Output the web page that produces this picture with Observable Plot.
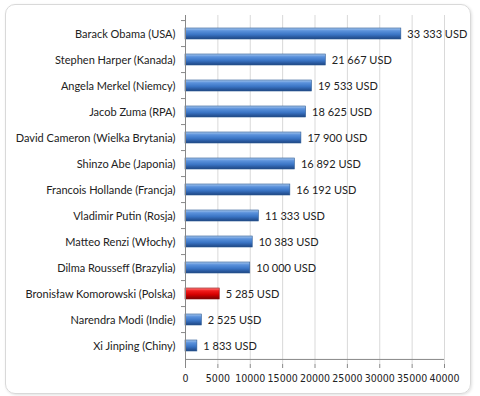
<!DOCTYPE html>
<html>
<head>
<meta charset="utf-8">
<script src="https://cdn.jsdelivr.net/npm/d3@7"></script>
<script src="https://cdn.jsdelivr.net/npm/@observablehq/plot@0.6"></script>
<style>
  html, body { margin: 0; padding: 0; background: #fff; }
  #wrap { position: relative; width: 480px; height: 396px; overflow: hidden; }
  #frame { position: absolute; left: 5px; top: 4px; width: 464px; height: 388px;
    border: 1px solid #d9d9d9; border-radius: 10px; box-shadow: 1px 1px 3px rgba(0,0,0,0.12); pointer-events: none; }
</style>
</head>
<body>
<div id="wrap"><div id="frame"></div></div>
<script>
const leaders = [
  "Barack Obama (USA)",
  "Stephen Harper (Kanada)",
  "Angela Merkel (Niemcy)",
  "Jacob Zuma (RPA)",
  "David Cameron (Wielka Brytania)",
  "Shinzo Abe (Japonia)",
  "Francois Hollande (Francja)",
  "Vladimir Putin (Rosja)",
  "Matteo Renzi (Włochy)",
  "Dilma Rousseff (Brazylia)",
  "Bronisław Komorowski (Polska)",
  "Narendra Modi (Indie)",
  "Xi Jinping (Chiny)"
];
const salaries = [33333, 21667, 19533, 18625, 17900, 16892, 16192, 11333, 10383, 10000, 5285, 2525, 1833];
const highlighted = ["Bronisław Komorowski (Polska)"];
const xTicks = [0, 5000, 10000, 15000, 20000, 25000, 30000, 35000, 40000];

const data = leaders.map((name, i) => ({name, value: salaries[i], hl: highlighted.includes(name)}));
const fmt = v => d3.format(",")(v).replace(/,/g, " ") + " USD";

const W = 480, H = 396, mt = 15, mb = 32, ml = 185, mr = 36;
const step = (H - mt - mb) / leaders.length;
const font = "Lato, 'Open Sans', sans-serif";
const narrow = "'Liberation Sans Narrow', 'DejaVu Sans Condensed', Lato, sans-serif";

const chart = Plot.plot({
  width: W, height: H,
  marginTop: mt, marginBottom: mb, marginLeft: ml, marginRight: mr,
  style: {fontFamily: font, fontSize: "11px", color: "#222", background: "transparent"},
  x: {domain: [0, 40000], ticks: xTicks},
  y: {domain: leaders, paddingInner: 0.57, paddingOuter: 0.285},
  marks: [
    Plot.gridX(xTicks.filter(d => d > 0), {stroke: "#d9d9d9", strokeOpacity: 1}),
    Plot.barX(data, {y: "name", x: "value", fill: d => d.hl ? "url(#gradRed)" : "url(#gradBlue)",
      stroke: d => d.hl ? "#8a0c0c" : "#2c5a94", strokeWidth: 0.6}),
    Plot.text(data, {y: "name", x: "value", text: d => fmt(d.value), textAnchor: "start", dx: 6, fill: "#222", fontSize: 11}),
    Plot.ruleY(leaders, {y: d => d, x1: 0, x2: 0, insetLeft: -4, dy: -step / 2, stroke: "#888"}),
    Plot.ruleX([0], {stroke: "#888"}),
    Plot.ruleY([leaders[leaders.length - 1]], {y: d => d, dy: step / 2, stroke: "#888"}),
    Plot.axisY({tickSize: 0, tickPadding: 10, label: null, fontSize: 11, fill: "#222"}),
    Plot.axisX({ticks: xTicks, tickSize: 4, tickPadding: 6, tickFormat: d => String(d), label: null, stroke: "#888", fontSize: 10.5, fontFamily: narrow, fill: "#222"})
  ]
});

const svg = d3.select(chart);
const defs = svg.insert("defs", ":first-child");
function grad(id, stops) {
  const g = defs.append("linearGradient").attr("id", id).attr("x1", 0).attr("y1", 0).attr("x2", 0).attr("y2", 1);
  stops.forEach(([o, c]) => g.append("stop").attr("offset", o).attr("stop-color", c));
}
grad("gradBlue", [[0, "#a9c8ee"], [0.25, "#5b92dc"], [0.6, "#3a74c4"], [1, "#1d4582"]]);
grad("gradRed", [[0, "#ff8a8a"], [0.25, "#f21b1b"], [0.6, "#d40000"], [1, "#7a0000"]]);

chart.style.position = "absolute";
chart.style.left = "0px";
chart.style.top = "0px";
document.getElementById("wrap").appendChild(chart);
</script>
</body>
</html>
